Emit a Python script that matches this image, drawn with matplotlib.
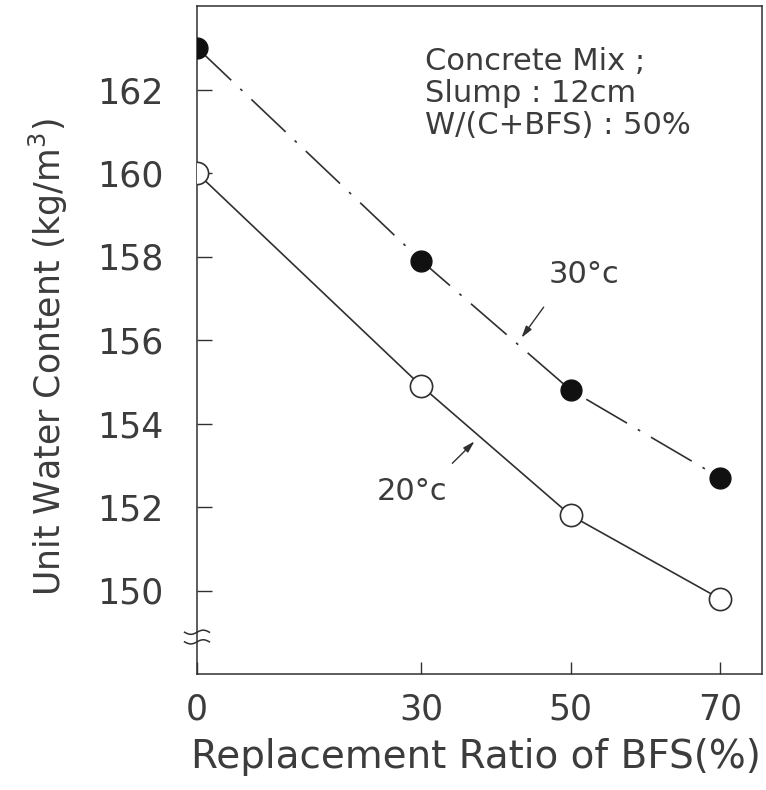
import numpy as np
import matplotlib
matplotlib.use("Agg")
import matplotlib.pyplot as plt

# Data
ratio = [0, 30, 50, 70]
water_30c = [163.0, 157.9, 154.8, 152.7]
water_20c = [160.0, 154.9, 151.8, 149.8]
yticks = [150, 152, 154, 156, 158, 160, 162]
xticks = [0, 30, 50, 70]
mix_lines = ['Concrete Mix ;', 'Slump : 12cm', 'W/(C+BFS) : 50%']

plt.rcParams['font.family'] = ['DejaVu Sans']
plt.rcParams['lines.scale_dashes'] = False
ink = '#303030'
txt = '#3c3c3c'

fig = plt.figure(figsize=(7.66, 7.90), dpi=100)
ax = fig.add_axes([197/766, 1-674/790, 565/766, 668/790])

ax.plot(ratio, water_20c, '-', color=ink, lw=1.2, marker='o', ms=16,
        mfc='white', mec=ink, mew=1.2, zorder=3)
ax.plot(ratio, water_30c, color=ink, lw=1.2, dashes=[34, 9, 2, 9],
        marker='o', ms=15, mfc='#111111', mec='#111111', zorder=3)

ax.set_xlim(0, 75.6)
ax.set_ylim(148, 164)
ax.set_xticks(xticks)
ax.set_yticks(yticks)
ax.tick_params(direction='in', width=1, colors=ink,
               labelcolor=txt, labelsize=25)
ax.tick_params(axis='x', pad=13, length=9)
ax.tick_params(axis='y', pad=24, length=11)
for s in ax.spines.values():
    s.set_color(ink)
    s.set_linewidth(1.1)

ax.set_ylabel('Unit Water Content (kg/m$^3$)', fontsize=25, color=txt)
ax.yaxis.set_label_coords(-0.225, 0.475)
ax.set_xlabel('Replacement Ratio of BFS(%)', fontsize=28, color=txt)
ax.xaxis.set_label_coords(0.494, -0.096)

# axis break marks on the y axis
trans = ax.get_yaxis_transform()
t = np.linspace(-1, 1, 40)
for yb in (149.0, 148.77):
    ax.plot(t * 0.022, yb + 0.05 * np.sin(t * np.pi), color=ink, lw=1.1,
            transform=trans, clip_on=False, zorder=4)

# annotations
for yy, line in zip([162.47, 161.70, 160.93], mix_lines):
    ax.text(30.5, yy, line, fontsize=22, color=txt, va='baseline', ha='left')
ax.text(51.8, 157.56, '30°c', fontsize=22, color=txt, ha='center', va='center')
ax.text(28.8, 152.38, '20°c', fontsize=22, color=txt, ha='center', va='center')
ap = dict(arrowstyle='-|>,head_length=0.7,head_width=0.2', color=ink, lw=1.0)
ax.annotate('', xy=(43.2, 156.0), xytext=(46.6, 156.84), arrowprops=ap)
ax.annotate('', xy=(37.4, 153.62), xytext=(33.9, 153.0), arrowprops=ap)

fig.savefig('out.png', dpi=100)
